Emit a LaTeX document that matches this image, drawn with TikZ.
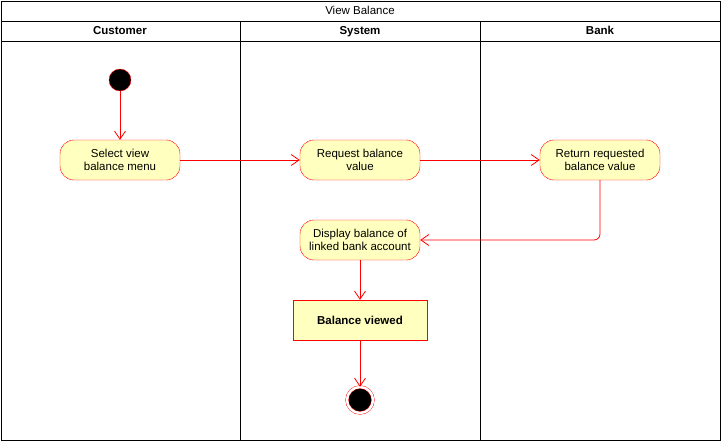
\documentclass[tikz,border=0pt]{standalone}
\usepackage{fontspec}
\setmainfont{Liberation Sans}
\definecolor{ActFill}{HTML}{FFFFC0}
\definecolor{ActRed}{HTML}{FF0000}
\usetikzlibrary{arrows.meta, positioning}
\tikzset{
  % Box styles
  actionbox/.style={rectangle, rounded corners=14pt, draw=ActRed, fill=ActFill, minimum width=120pt, minimum height=40pt, font=\fontsize{11.5}{13}\selectfont, align=center, inner sep=2pt},
  statebox/.style={rectangle, draw=ActRed, fill=ActFill, minimum width=134pt, minimum height=40pt, font=\fontsize{11.5}{13}\selectfont\bfseries, align=center},
  % Node styles
  startnode/.style={circle, draw=ActRed, fill=black, minimum size=22pt, inner sep=0pt},
  endnode/.style={circle, draw=ActRed, fill=black, minimum size=26pt, inner sep=0pt, double=white, double distance=2.5pt},
  lanetitle/.style={font=\fontsize{11.5}{13}\selectfont, text height=8.5pt, text depth=2.5pt},
  % Arrow styles
  arrow/.style={-{Straight Barb[length=8pt, width=11pt]}, ActRed, line width=0.8pt},
  lane/.style={draw=black, line width=0.8pt}
}
\begin{document}
\begin{tikzpicture}[x=1pt, y=-1pt]
  \useasboundingbox (0,0) rectangle (722,442);
  % Swimlanes
  \draw[lane] (1,1) rectangle (720,440);
  \draw[lane] (1,21) -- (720,21);
  \draw[lane] (1,41) -- (720,41);
  \draw[lane] (240,21) -- (240,440);
  \draw[lane] (480,21) -- (480,440);
  \node[lanetitle] (title) at (360,11) {View Balance};
  \node[lanetitle, font=\fontsize{11.5}{13}\selectfont\bfseries] (cust) at (120,31) {Customer};
  \node[lanetitle, font=\fontsize{11.5}{13}\selectfont\bfseries] (sys) at (360,31) {System};
  \node[lanetitle, font=\fontsize{11.5}{13}\selectfont\bfseries] (bank) at (600,31) {Bank};

  % Activities
  \node[startnode] (start) at (120,80) {};
  \node[actionbox] (select) at (120,160) {Select view\\balance menu};
  \node[actionbox] (request) at (360,160) {Request balance\\value};
  \node[actionbox] (return) at (600,160) {Return requested\\balance value};
  \node[actionbox] (display) at (360,240) {Display balance of\\linked bank account};
  \node[statebox] (viewed) at (360,320) {Balance viewed};
  \node[endnode] (end) at (360,400) {};

  % Flow
  \draw[arrow] (start) -- (select);
  \draw[arrow] (select) -- (request);
  \draw[arrow] (request) -- (return);
  \draw[arrow, rounded corners=6pt] (return.south) |- (display.east);
  \draw[arrow] (display) -- (viewed);
  \draw[arrow] (viewed) -- (end);
\end{tikzpicture}
\end{document}
